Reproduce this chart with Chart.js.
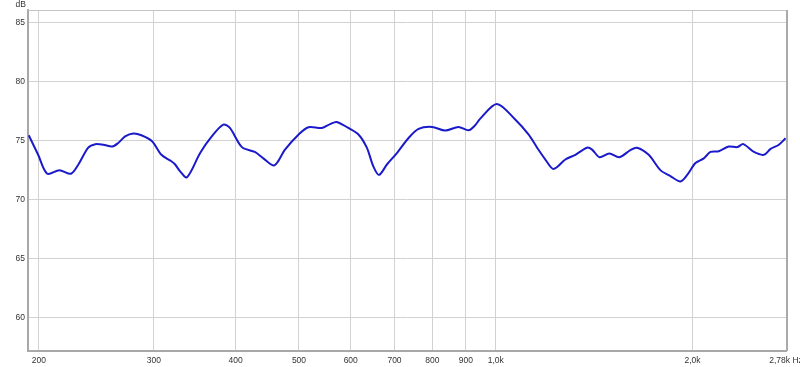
<!DOCTYPE html>
<html>
<head>
<meta charset="utf-8">
<script src="https://cdn.jsdelivr.net/npm/chart.js@4/dist/chart.umd.min.js"></script>
<style>
  html, body { margin: 0; padding: 0; background: #fff; }
  #wrap { width: 800px; height: 367px; }
</style>
</head>
<body>
<div id="wrap"><canvas id="fr"></canvas></div>
<script>
// frequency (Hz) and level (dB)
let freqs = [193, 199.5, 206, 215, 224, 230, 238, 244, 251, 259, 264.5, 271, 279, 287, 298, 308, 319, 323, 329, 337,
	353, 368, 383, 392, 409, 428, 441, 458.5, 476, 499, 517, 542, 558, 571, 595, 617, 635, 650, 663, 682,
	706, 735, 762, 799, 837, 877, 909, 930, 947, 1004, 1071, 1123, 1157, 1191, 1226, 1278, 1324, 1379, 1404, 1441,
	1492, 1546, 1607, 1645, 1714, 1786, 1850, 1917, 1963, 2021, 2081, 2131, 2194, 2273, 2341, 2392, 2483, 2572, 2633, 2711, 2776]
let levels = [75.45, 73.8, 72.2, 72.5, 72.2, 73.0, 74.4, 74.7, 74.65, 74.5, 74.8, 75.35, 75.6, 75.45, 74.95, 73.8, 73.25, 73.0, 72.4, 71.9,
	73.95, 75.37, 76.35, 76.07, 74.45, 74.04, 73.5, 72.9, 74.24, 75.5, 76.13, 76.07, 76.4, 76.58, 76.07, 75.5, 74.4, 72.8, 72.1, 73.0,
	73.95, 75.2, 75.99, 76.16, 75.85, 76.16, 75.87, 76.3, 76.86, 78.1, 76.78, 75.5, 74.4, 73.4, 72.6, 73.4, 73.8, 74.4, 74.24, 73.6,
	73.9, 73.6, 74.2, 74.4, 73.8, 72.5, 72.0, 71.55, 72.1, 73.1, 73.5, 74.04, 74.1, 74.5, 74.45, 74.7, 74.04, 73.8, 74.3, 74.65, 75.2]

let xTicks = [200, 300, 400, 500, 600, 700, 800, 900, 1000, 2000, 2780]
let xTickLabels = ['200', '300', '400', '500', '600', '700', '800', '900', '1,0k', '2,0k', '2,78k Hz']
let yTicks = [60, 65, 70, 75, 80, 85]

let points = Array()
for (let i = 0; i < freqs.length; i++) {
	points.push({x: freqs[i], y: levels[i]})
}

let tickFont = { family: 'Liberation Sans', size: 8.5 }

//frame on top/right plus the "dB" unit label
let framePlugin = {
	id: 'frame',
	afterDraw(chart) {
		let ctx = chart.ctx
		let a = chart.chartArea
		ctx.save()
		ctx.strokeStyle = '#c4c4c4'
		ctx.lineWidth = 1
		ctx.beginPath()
		ctx.moveTo(a.left, a.top + 0.5)
		ctx.lineTo(a.right, a.top + 0.5)
		ctx.stroke()
		ctx.strokeStyle = '#aaaaaa'
		ctx.lineWidth = 2
		ctx.beginPath()
		ctx.moveTo(a.right + 1, a.top)
		ctx.lineTo(a.right + 1, a.bottom)
		ctx.stroke()
		ctx.fillStyle = '#333'
		ctx.font = '8.5px "Liberation Sans"'
		ctx.textAlign = 'right'
		ctx.textBaseline = 'middle'
		ctx.fillText('dB', 26, 4.5)
		ctx.restore()
	}
}

new Chart('fr', {
	type: 'line',
	data: {
		datasets: [{
			data: points,
			borderColor: '#1a1acb',
			borderWidth: 2,
			pointRadius: 0,
			tension: 0.3,
			fill: false
		}]
	},
	options: {
		responsive: true,
		maintainAspectRatio: false,
		animation: false,
		events: [],
		layout: { padding: { top: 10, right: 14, left: 0, bottom: 0 } },
		plugins: { legend: { display: false }, tooltip: { enabled: false } },
		scales: {
			x: {
				type: 'logarithmic',
				min: 192.5,
				max: 2780,
				afterBuildTicks: (s) => { s.ticks = xTicks.map(v => ({value: v})) },
				afterFit: (s) => { s.height = 16; s.paddingLeft = 0; s.paddingRight = 0 },
				ticks: {
					autoSkip: false,
					maxRotation: 0,
					padding: 5,
					color: '#333',
					font: tickFont,
					callback: (v) => { let i = xTicks.indexOf(v); return i >= 0 ? xTickLabels[i] : '' }
				},
				grid: { color: '#d2d2d2', drawTicks: false },
				border: { color: '#a8a8a8', width: 2 }
			},
			y: {
				min: 57.2,
				max: 86.05,
				afterBuildTicks: (s) => { s.ticks = yTicks.map(v => ({value: v})) },
				afterFit: (s) => { s.width = 28; s.paddingTop = 0; s.paddingBottom = 0 },
				ticks: { padding: 3, color: '#333', font: tickFont },
				grid: { color: '#d2d2d2', drawTicks: false },
				border: { color: '#a8a8a8', width: 2 }
			}
		}
	},
	plugins: [framePlugin]
})
</script>
</body>
</html>
